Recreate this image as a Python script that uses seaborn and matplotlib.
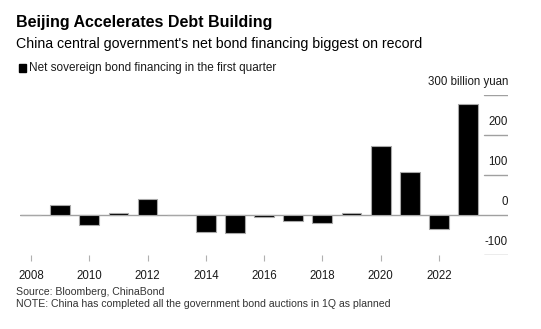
import matplotlib
matplotlib.use("Agg")
import matplotlib.pyplot as plt
import matplotlib.transforms as mtransforms
import seaborn as sns
import pandas as pd

# ---- data ----
years = [2008, 2009, 2010, 2011, 2012, 2013, 2014, 2015,
         2016, 2017, 2018, 2019, 2020, 2021, 2022, 2023]
net_financing = [1, 24, -24, 4, 41, -1, -42, -45,
                 -5, -16, -21, 4, 173, 107, -34, 277]
xtick_years = [2008, 2010, 2012, 2014, 2016, 2018, 2020, 2022]
ytick_values = [300, 200, 100, 0, -100]
ytick_labels = ["300 billion yuan", "200", "100", "0", "-100"]

title = "Beijing Accelerates Debt Building"
subtitle = "China central government's net bond financing biggest on record"
legend_label = "Net sovereign bond financing in the first quarter"
source = "Source: Bloomberg, ChinaBond"
note = "NOTE: China has completed all the government bond auctions in 1Q as planned"

df = pd.DataFrame({"year": [str(y) for y in years], "value": net_financing})

sns.set_style("white")
plt.rcParams["font.family"] = ["Liberation Sans", "DejaVu Sans"]

W, H = 541, 329
fig = plt.figure(figsize=(W / 100, H / 100), dpi=100)
left_px, right_px, top_px, bottom_px = 20, 508, 95, 255
ax = fig.add_axes([left_px / W, 1 - bottom_px / H,
                   (right_px - left_px) / W, (bottom_px - top_px) / H])

sns.barplot(data=df, x="year", y="value", order=[str(y) for y in years],
            color="black", saturation=1, width=0.68,
            edgecolor="#a8a8a8", linewidth=0.8, ax=ax, zorder=3)

ax.set_xlim(-0.378, 16.37)
ax.set_ylim(-100, 300)
for s in ax.spines.values():
    s.set_visible(False)
ax.set_xlabel("")
ax.set_ylabel("")

# zero line across plot
ax.axhline(0, color="#a0a0a0", lw=1.0, zorder=2)

# right-side short grid marks with labels above them
trans = mtransforms.blended_transform_factory(ax.transAxes, ax.transData)
frac = (right_px - 484) / (right_px - left_px)
for v, lab in zip(ytick_values, ytick_labels):
    if v != 0:
        ax.axhline(v, xmin=1 - frac, xmax=1.0, color="#a0a0a0", lw=1.0, zorder=2)
    toff = mtransforms.offset_copy(trans, fig=fig, x=0, y=7, units="dots")
    ax.text(1.0, v, lab, transform=toff, ha="right", va="bottom",
            fontsize=8.3, color="#1a1a1a")

ax.set_yticks([])
pos = [years.index(y) for y in xtick_years]
ax.set_xticks(pos)
ax.set_xticklabels([str(y) for y in xtick_years])
ax.tick_params(axis="x", length=4, width=0.8, color="#b0b0b0", pad=7,
               labelsize=8.3, labelcolor="#1a1a1a", bottom=True)

# titles
fig.text(16 / W, 1 - 22 / H, title, fontsize=11.5, fontweight="bold",
         ha="left", va="center", color="black")
fig.text(16 / W, 1 - 44 / H, subtitle, fontsize=10.2,
         ha="left", va="center", color="black")
# legend
fig.patches.append(plt.Rectangle((19 / W, 1 - 71.5 / H), 7 / W, 7 / H,
                                 transform=fig.transFigure, color="black"))
fig.text(29 / W, 1 - 67.5 / H, legend_label, fontsize=8.5,
         ha="left", va="center", color="#1a1a1a")

fig.text(16 / W, 1 - 292 / H, source, fontsize=7.6, ha="left", va="center",
         color="#333333")
fig.text(16 / W, 1 - 304 / H, note, fontsize=7.6, ha="left", va="center",
         color="#333333")

fig.savefig("out.png", dpi=100)
